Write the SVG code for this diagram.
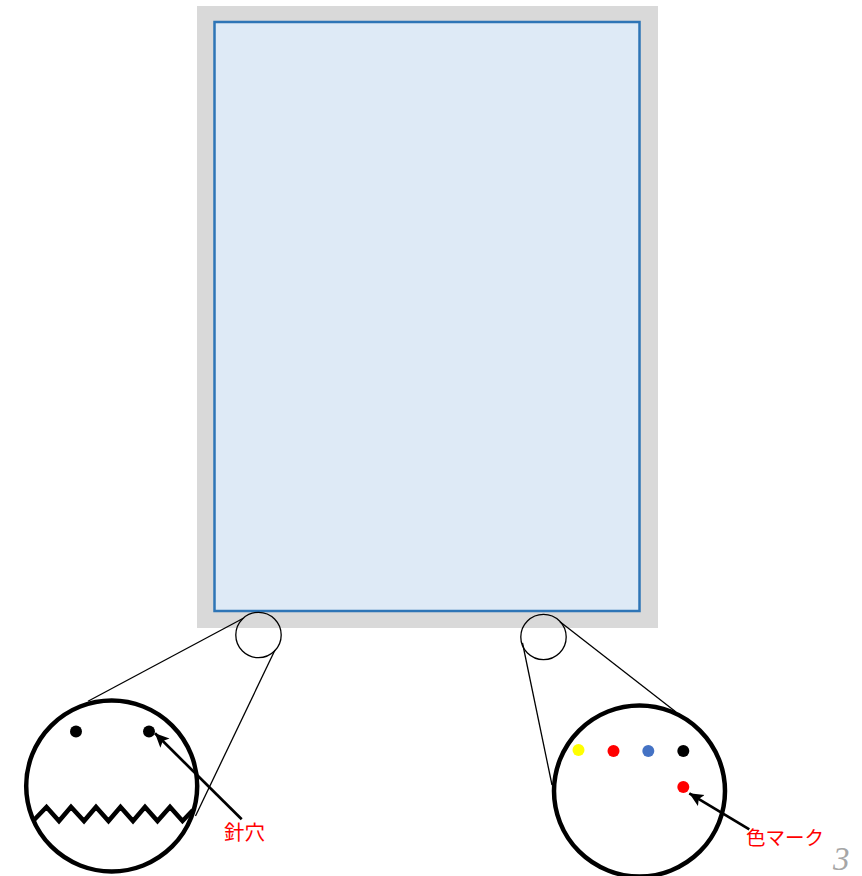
<svg xmlns="http://www.w3.org/2000/svg" width="862" height="876" viewBox="0 0 862 876">
<style>
.lens{fill:none;stroke:#000;stroke-width:1.3}
.big{fill:none;stroke:#000;stroke-width:4.500}
.thin{fill:none;stroke:#000;stroke-width:1.3}
.arrow{fill:none;stroke:#000;stroke-width:2.700;marker-end:url(#head)}
.label{font-family:"Liberation Sans","Noto Sans CJK JP",sans-serif;fill:#f00}
</style>
<defs>
<marker id="head" markerUnits="userSpaceOnUse" markerWidth="16" markerHeight="14" refX="14" refY="7" orient="auto">
<path d="M0 0.500L14 7L0 13.500L3 7Z" fill="#000"/>
</marker>
</defs>
<rect width="862" height="876" fill="#fff"/>
<g id="panel">
<rect x="197" y="6" width="461" height="622" fill="#d9d9d9"/>
<rect x="214.500" y="22" width="425" height="589" fill="#deeaf6" stroke="#2e75b6" stroke-width="2.500"/>
</g>
<g id="lens-left"><circle cx="258.500" cy="635" r="22.700" class="lens"/></g>
<g id="lens-right"><circle cx="543.500" cy="637" r="22.700" class="lens"/></g>
<g id="detail-left">
<circle cx="111.700" cy="786" r="85.500" class="big"/>
<path d="M34 820L46.500 807L59 821L71 807L84 821L96 807L108.500 821L120.500 807L133 821L145 807L157.500 821L170 807L182.500 821L193 810" fill="none" stroke="#000" stroke-width="4.500"/>
<circle cx="76" cy="731.500" r="6"/>
<circle cx="149" cy="731.500" r="6"/>
</g>
<g id="detail-right">
<circle cx="639.500" cy="791" r="85.500" class="big"/>
<circle cx="578.500" cy="750" r="6" fill="#ff0"/>
<circle cx="613.500" cy="751" r="6" fill="#f00"/>
<circle cx="648.300" cy="751" r="6" fill="#4472c4"/>
<circle cx="683.300" cy="751" r="6" fill="#000"/>
<circle cx="683.300" cy="787" r="6" fill="#f00"/>
</g>
<g id="connectors">
<line x1="88" y1="701.300" x2="243.300" y2="618.300" class="thin"/>
<line x1="275" y1="650" x2="195.500" y2="816" class="thin"/>
<line x1="522.500" y1="643" x2="552" y2="785" class="thin"/>
<line x1="560" y1="621.700" x2="676" y2="712" class="thin"/>
<line x1="241.700" y1="819.300" x2="155" y2="733.300" class="arrow"/>
<line x1="749.300" y1="829.300" x2="689.300" y2="793.300" class="arrow"/>
</g>
<g id="labels">
<text x="224" y="840" font-size="20.500px" class="label">針穴</text>
<text x="746" y="845" font-size="19.500px" class="label">色マーク</text>
<text x="833" y="870" font-family="Liberation Serif,serif" font-style="italic" font-size="33" fill="#a6a6a6">3</text>
</g>
</svg>
